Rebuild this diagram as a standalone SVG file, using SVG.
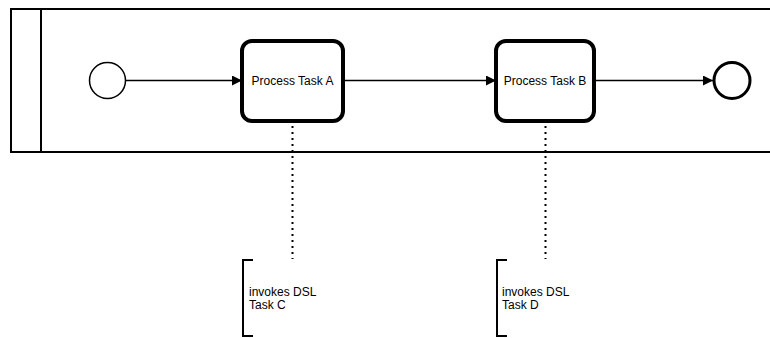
<svg xmlns="http://www.w3.org/2000/svg" width="770" height="338" viewBox="0 0 770 338">
<defs>
<style>
.pool{fill:#fff;stroke:#000;stroke-width:2}
.task{fill:#fff;stroke:#000;stroke-width:4}
.lbl{font-family:"Liberation Sans",Arial,sans-serif;font-size:12px;fill:#000}
.flow{fill:none;stroke:#000;stroke-width:1.5}
.assoc{fill:none;stroke:#000;stroke-width:2;stroke-dasharray:2 4}
.br{fill:none;stroke:#000;stroke-width:2}
</style>
<marker id="arr" viewBox="0 0 10 10" refX="10" refY="5" markerWidth="10" markerHeight="10" markerUnits="userSpaceOnUse" orient="auto">
<path d="M0,0 L10,5 L0,10 Z" fill="#000"/>
</marker>
</defs>
<g id="pool">
<rect class="pool" x="11" y="9" width="770" height="143"/>
<line x1="41" y1="9" x2="41" y2="152" stroke="#000" stroke-width="2"/>
</g>
<g id="connectors">
<line class="flow" x1="125.5" y1="80.5" x2="242" y2="80.5" marker-end="url(#arr)"/>
<line class="flow" x1="343" y1="80.5" x2="496" y2="80.5" marker-end="url(#arr)"/>
<line class="flow" x1="594" y1="80.5" x2="713" y2="80.5" marker-end="url(#arr)"/>
<line class="assoc" x1="292.5" y1="126" x2="292.5" y2="259"/>
<line class="assoc" x1="545.5" y1="126" x2="545.5" y2="259"/>
</g>
<g id="start">
<circle cx="107.5" cy="80.5" r="18" fill="#fff" stroke="#000" stroke-width="1.5"/>
</g>
<g id="taskA">
<rect class="task" x="242" y="41" width="101" height="80" rx="10"/>
<text class="lbl" x="292.5" y="84.5" text-anchor="middle">Process Task A</text>
</g>
<g id="taskB">
<rect class="task" x="496" y="41" width="98" height="80" rx="10"/>
<text class="lbl" x="545" y="84.5" text-anchor="middle">Process Task B</text>
</g>
<g id="end">
<circle cx="732" cy="80.5" r="18" fill="#fff" stroke="#000" stroke-width="3"/>
</g>
<g id="annotC">
<path class="br" d="M253,260 L243,260 L243,336 L253,336"/>
<text class="lbl" x="249" y="296">invokes DSL</text>
<text class="lbl" x="249" y="309">Task C</text>
</g>
<g id="annotD">
<path class="br" d="M507,260 L497,260 L497,336 L507,336"/>
<text class="lbl" x="502" y="296">invokes DSL</text>
<text class="lbl" x="502" y="309">Task D</text>
</g>
</svg>
